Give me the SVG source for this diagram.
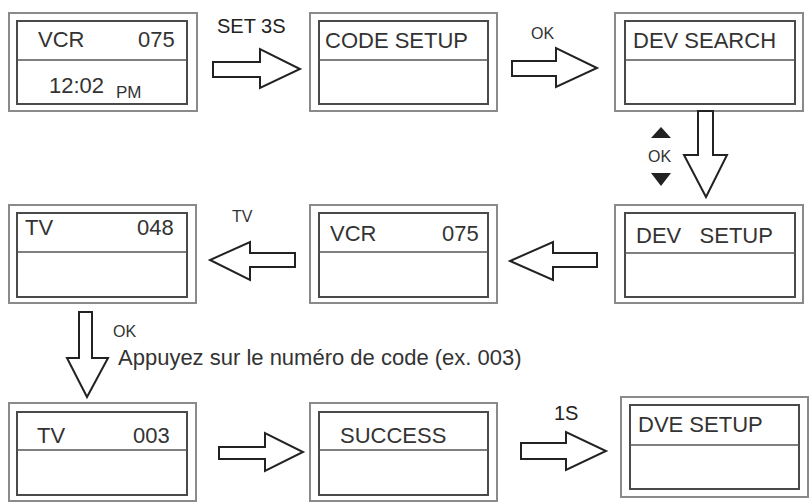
<svg xmlns="http://www.w3.org/2000/svg" width="812" height="503" viewBox="0 0 812 503">
<style>
.outer{fill:#fff;stroke:#8a8a8a;stroke-width:2}
.inner{fill:#fff;stroke:#4a4a4a;stroke-width:2}
.div{stroke:#555;stroke-width:1.6}
.t{font-family:"Liberation Sans",Arial,sans-serif;font-size:22px;fill:#333}
.s{font-family:"Liberation Sans",Arial,sans-serif;font-size:16px;fill:#333}
.m{font-family:"Liberation Sans",Arial,sans-serif;font-size:20px;fill:#222}
.arr{fill:#fff;stroke:#222;stroke-width:2;stroke-linejoin:miter}
.tri{fill:#222}
</style>
<rect width="812" height="503" fill="#fff"/>
<g id="node-vcr-time">
<rect class="outer" x="9" y="13" width="188" height="98"/>
<rect class="inner" x="17" y="21" width="170" height="83"/>
<line class="div" x1="17" y1="60" x2="187" y2="60"/>
<text class="t" x="38" y="47">VCR</text>
<text class="t" x="138" y="47">075</text>
<text class="t" x="49" y="93">12:02</text>
<text class="s" x="116" y="98" style="font-size:17px">PM</text>
</g>
<g id="node-code-setup">
<rect class="outer" x="310" y="13" width="187" height="98"/>
<rect class="inner" x="319" y="21" width="169" height="83"/>
<line class="div" x1="319" y1="60" x2="488" y2="60"/>
<text class="t" x="325" y="48">CODE SETUP</text>
</g>
<g id="node-dev-search">
<rect class="outer" x="615" y="13" width="188" height="98"/>
<rect class="inner" x="625" y="21" width="170" height="83"/>
<line class="div" x1="625" y1="60" x2="795" y2="60"/>
<text class="t" x="633" y="48">DEV SEARCH</text>
</g>
<g id="node-dev-setup">
<rect class="outer" x="615" y="205" width="188" height="98"/>
<rect class="inner" x="625" y="213" width="170" height="84"/>
<line class="div" x1="625" y1="253" x2="795" y2="253"/>
<text class="t" x="636" y="243" xml:space="preserve">DEV   SETUP</text>
</g>
<g id="node-vcr-075">
<rect class="outer" x="310" y="205" width="187" height="98"/>
<rect class="inner" x="319" y="213" width="169" height="84"/>
<line class="div" x1="319" y1="252" x2="488" y2="252"/>
<text class="t" x="330" y="241">VCR</text>
<text class="t" x="442" y="241">075</text>
</g>
<g id="node-tv-048">
<rect class="outer" x="9" y="205" width="187" height="98"/>
<rect class="inner" x="17" y="213" width="170" height="84"/>
<line class="div" x1="17" y1="252" x2="187" y2="252"/>
<text class="t" x="25" y="235">TV</text>
<text class="t" x="137" y="235">048</text>
</g>
<g id="node-tv-003">
<rect class="outer" x="9" y="403" width="187" height="98"/>
<rect class="inner" x="17" y="412" width="170" height="83"/>
<line class="div" x1="17" y1="450" x2="187" y2="450"/>
<text class="t" x="37" y="443">TV</text>
<text class="t" x="133" y="443">003</text>
</g>
<g id="node-success">
<rect class="outer" x="310" y="403" width="187" height="98"/>
<rect class="inner" x="319" y="412" width="169" height="83"/>
<line class="div" x1="319" y1="450" x2="488" y2="450"/>
<text class="t" x="340" y="443">SUCCESS</text>
</g>
<g id="node-dve-setup">
<rect class="outer" x="621" y="397" width="187" height="100"/>
<rect class="inner" x="630" y="405" width="169" height="84"/>
<line class="div" x1="630" y1="445" x2="799" y2="445"/>
<text class="t" x="638" y="432">DVE SETUP</text>
</g>
<g id="connectors">
<polygon class="arr" points="213,62 260,62 260,49 300,69 260,88 260,77 213,77"/>
<text class="m" x="217" y="33">SET 3S</text>
<polygon class="arr" points="512,61 556,61 556,48 597,68 556,87 556,76 512,76"/>
<text class="s" x="531" y="39">OK</text>
<polygon class="arr" points="698,111 713,111 713,155 727,155 706,197 684,155 698,155"/>
<polygon class="tri" points="661,127 671,138 651,138"/>
<text class="s" x="648" y="162">OK</text>
<polygon class="tri" points="651,173 671,173 661,186"/>
<polygon class="arr" points="597,253 553,253 553,242 510,261 553,280 553,267 597,267"/>
<polygon class="arr" points="295,253 250,253 250,242 210,260 250,280 250,267 295,267"/>
<text class="s" x="232" y="222">TV</text>
<polygon class="arr" points="79,312 92,312 92,358 108,358 87,397 67,358 79,358"/>
<text class="s" x="113" y="337">OK</text>
<text class="t" x="118" y="365">Appuyez sur le numéro de code (ex. 003)</text>
<polygon class="arr" points="219,447 265,447 265,433 303,452 265,471 265,459 219,459"/>
<polygon class="arr" points="521,443 566,443 566,432 606,451 566,470 566,459 521,459"/>
<text class="m" x="554" y="420">1S</text>
</g>
</svg>
